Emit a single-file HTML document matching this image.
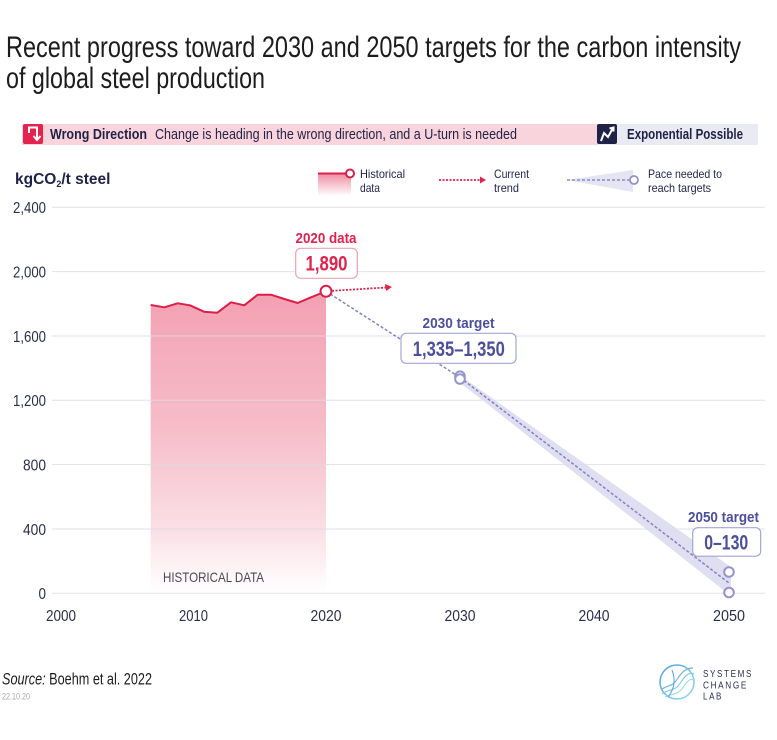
<!DOCTYPE html>
<html><head><meta charset="utf-8"><style>
html,body{margin:0;padding:0;background:#fff;}
svg{display:block;}
text{font-family:"Liberation Sans Narrow","Liberation Sans",sans-serif;}
</style></head><body>
<svg width="777" height="740" viewBox="0 0 777 740" xmlns="http://www.w3.org/2000/svg">
<defs>
<linearGradient id="hist" x1="0" y1="290" x2="0" y2="592" gradientUnits="userSpaceOnUse">
<stop offset="0" stop-color="#f3a0b2"/>
<stop offset="0.45" stop-color="#f6bcc8"/>
<stop offset="0.8" stop-color="#fae0e6"/>
<stop offset="1" stop-color="#ffffff"/>
</linearGradient>
<linearGradient id="leg" x1="0" y1="173" x2="0" y2="196" gradientUnits="userSpaceOnUse">
<stop offset="0" stop-color="#ee8aa0"/>
<stop offset="1" stop-color="#ffffff"/>
</linearGradient>
<linearGradient id="logo" x1="0" y1="0" x2="1" y2="1">
<stop offset="0" stop-color="#4f9be0"/>
<stop offset="1" stop-color="#8fdcea"/>
</linearGradient>
</defs>

<!-- Title -->
<text x="6" y="57" font-size="30" fill="#1c1c1c" textLength="735" lengthAdjust="spacingAndGlyphs">Recent progress toward 2030 and 2050 targets for the carbon intensity</text>
<text x="6" y="88" font-size="30" fill="#1c1c1c" textLength="259" lengthAdjust="spacingAndGlyphs">of global steel production</text>

<!-- Banner -->
<rect x="22" y="124" width="576" height="21" fill="#f9d4dc"/>
<rect x="598" y="124" width="160" height="21" fill="#eaeaf3"/>
<rect x="23" y="124" width="20" height="20" rx="2" fill="#e2244e"/>
<path d="M29,130 L29,127.5 L37,127.5 L37,139 M33.5,136 L37,140 L40.5,136" stroke="#fff" stroke-width="2" fill="none"/>
<path d="M29,127 L29,133" stroke="#fff" stroke-width="2"/>
<text x="50" y="139" font-size="14.5" font-weight="bold" fill="#1f2247" textLength="97" lengthAdjust="spacingAndGlyphs">Wrong Direction</text>
<text x="155" y="139" font-size="14.5" fill="#1f2247" textLength="362" lengthAdjust="spacingAndGlyphs">Change is heading in the wrong direction, and a U-turn is needed</text>
<rect x="597" y="124" width="20" height="20" rx="2" fill="#1f2247"/>
<path d="M601,141 L604,133 L608,137 L613,128 M609.5,128.5 L613.5,127.5 L613.5,131.5" stroke="#fff" stroke-width="2" fill="none"/>
<text x="627" y="139" font-size="14.5" font-weight="bold" fill="#1f2247" textLength="116" lengthAdjust="spacingAndGlyphs">Exponential Possible</text>

<!-- Y axis title -->
<text x="15" y="184" font-size="15.5" font-weight="bold" fill="#1f2247">kgCO<tspan font-size="9" dy="3">2</tspan><tspan dy="-3">/t steel</tspan></text>

<!-- Legend -->
<rect x="318" y="173" width="33" height="22" fill="url(#leg)"/>
<line x1="318" y1="173.5" x2="346" y2="173.5" stroke="#dc1f48" stroke-width="2"/>
<circle cx="350" cy="173.5" r="4" fill="#fff" stroke="#dc1f48" stroke-width="2"/>
<text x="360" y="178" font-size="12" fill="#1f2247" textLength="45" lengthAdjust="spacingAndGlyphs">Historical</text>
<text x="360" y="192" font-size="12" fill="#1f2247" textLength="20" lengthAdjust="spacingAndGlyphs">data</text>

<line x1="439" y1="180" x2="481" y2="180" stroke="#e0234e" stroke-width="1.8" stroke-dasharray="2,1.5"/>
<path d="M480,176.5 L486,180 L480,183.5 Z" fill="#e0234e"/>
<text x="494" y="178" font-size="12" fill="#1f2247" textLength="35" lengthAdjust="spacingAndGlyphs">Current</text>
<text x="494" y="192" font-size="12" fill="#1f2247" textLength="25" lengthAdjust="spacingAndGlyphs">trend</text>

<path d="M567,180 L633,170 L633,192 Z" fill="#e4e4f2"/>
<line x1="567" y1="180" x2="630" y2="180" stroke="#8a8cc8" stroke-width="1.5" stroke-dasharray="3,2"/>
<circle cx="634" cy="180" r="4" fill="#fff" stroke="#8f90cc" stroke-width="1.8"/>
<text x="648" y="178" font-size="12" fill="#1f2247" textLength="74" lengthAdjust="spacingAndGlyphs">Pace needed to</text>
<text x="648" y="192" font-size="12" fill="#1f2247" textLength="63" lengthAdjust="spacingAndGlyphs">reach targets</text>

<!-- Historical fill -->
<path d="M150.7,305 L164.3,307.3 L177.7,303.3 L190,305.3 L204,311.7 L217.3,312.7 L231,302.3 L244.3,305.3 L257.7,294.7 L271,294.7 L284.3,299 L297.7,303 L311,297.3 L326,291.3 L326,593 L150.7,593 Z" fill="url(#hist)"/>

<!-- Gridlines -->
<g stroke="#dcdce4" stroke-width="1" opacity="0.85">
<line x1="52" y1="207.3" x2="765" y2="207.3"/>
<line x1="52" y1="271.6" x2="765" y2="271.6"/>
<line x1="52" y1="336" x2="765" y2="336"/>
<line x1="52" y1="400.3" x2="765" y2="400.3"/>
<line x1="52" y1="464.6" x2="765" y2="464.6"/>
<line x1="52" y1="529" x2="765" y2="529"/>
<line x1="52" y1="593.3" x2="765" y2="593.3"/>
</g>

<!-- Y labels -->
<g font-size="15.5" fill="#2a2d4a" text-anchor="end">
<text x="46" y="213" textLength="33" lengthAdjust="spacingAndGlyphs">2,400</text>
<text x="46" y="277.5" textLength="33" lengthAdjust="spacingAndGlyphs">2,000</text>
<text x="46" y="342" textLength="33" lengthAdjust="spacingAndGlyphs">1,600</text>
<text x="46" y="406" textLength="33" lengthAdjust="spacingAndGlyphs">1,200</text>
<text x="46" y="470.5" textLength="23" lengthAdjust="spacingAndGlyphs">800</text>
<text x="46" y="535" textLength="23" lengthAdjust="spacingAndGlyphs">400</text>
<text x="46" y="599" textLength="7.5" lengthAdjust="spacingAndGlyphs">0</text>
</g>

<!-- X labels -->
<g font-size="15.5" fill="#2a2d4a" text-anchor="middle">
<text x="61" y="621" textLength="30" lengthAdjust="spacingAndGlyphs">2000</text>
<text x="193.5" y="621" textLength="29" lengthAdjust="spacingAndGlyphs">2010</text>
<text x="326" y="621" textLength="31" lengthAdjust="spacingAndGlyphs">2020</text>
<text x="460" y="621" textLength="31" lengthAdjust="spacingAndGlyphs">2030</text>
<text x="594" y="621" textLength="31" lengthAdjust="spacingAndGlyphs">2040</text>
<text x="729" y="621" textLength="32" lengthAdjust="spacingAndGlyphs">2050</text>
</g>

<text x="163" y="582" font-size="14" fill="#4a4a55" textLength="101" lengthAdjust="spacingAndGlyphs">HISTORICAL DATA</text>

<!-- Band 2030-2050 -->
<path d="M458,374 L731,567 L731,596 L458,381 Z" fill="#dcdcef" opacity="0.9"/>

<!-- Pace dashed lines -->
<line x1="326" y1="291.3" x2="460" y2="377.5" stroke="#8082c2" stroke-width="1.5" stroke-dasharray="3,2"/>
<line x1="460" y1="377.5" x2="729" y2="583" stroke="#8082c2" stroke-width="1.5" stroke-dasharray="3,2"/>

<!-- Historical line -->
<polyline points="150.7,305 164.3,307.3 177.7,303.3 190,305.3 204,311.7 217.3,312.7 231,302.3 244.3,305.3 257.7,294.7 271,294.7 284.3,299 297.7,303 311,297.3 326,291.3" fill="none" stroke="#dc1f48" stroke-width="2" stroke-linejoin="round"/>

<!-- Current trend -->
<line x1="332" y1="290.8" x2="386" y2="287.5" stroke="#e0234e" stroke-width="1.8" stroke-dasharray="2,1.5"/>
<path d="M385,284 L392,287 L386,291 Z" fill="#e0234e"/>

<circle cx="326" cy="291.3" r="5.5" fill="#fff" stroke="#dc1f48" stroke-width="2"/>

<!-- 2030 circles -->
<circle cx="460" cy="376.2" r="4.8" fill="#fff" stroke="#9394cf" stroke-width="2"/>
<circle cx="460" cy="379" r="4.8" fill="#fff" stroke="#9394cf" stroke-width="2"/>
<!-- 2050 circles -->
<circle cx="729" cy="572" r="4.8" fill="#fff" stroke="#9394cf" stroke-width="2"/>
<circle cx="729" cy="592.5" r="4.8" fill="#fff" stroke="#9394cf" stroke-width="2"/>

<!-- 2020 annotation -->
<text x="326" y="243" font-size="15" font-weight="bold" fill="#e0234e" text-anchor="middle" textLength="61" lengthAdjust="spacingAndGlyphs">2020 data</text>
<rect x="295.7" y="248.3" width="61.6" height="30" rx="5" fill="#fff" stroke="#eea2b3" stroke-width="1.2"/>
<text x="326.5" y="270.5" font-size="21" font-weight="bold" fill="#e0234e" text-anchor="middle" textLength="42" lengthAdjust="spacingAndGlyphs">1,890</text>

<!-- 2030 annotation -->
<text x="458.5" y="328" font-size="15" font-weight="bold" fill="#4b4f9c" text-anchor="middle" textLength="72" lengthAdjust="spacingAndGlyphs">2030 target</text>
<rect x="401" y="333.3" width="115" height="30" rx="5" fill="#fff" stroke="#a3a6d4" stroke-width="1.2"/>
<text x="458.8" y="356" font-size="21" font-weight="bold" fill="#4b4f9c" text-anchor="middle" textLength="92" lengthAdjust="spacingAndGlyphs">1,335–1,350</text>

<!-- 2050 annotation -->
<text x="723.5" y="522" font-size="15" font-weight="bold" fill="#4b4f9c" text-anchor="middle" textLength="71" lengthAdjust="spacingAndGlyphs">2050 target</text>
<rect x="692.7" y="527.7" width="68" height="28.5" rx="5" fill="#fff" stroke="#a3a6d4" stroke-width="1.2"/>
<text x="726.2" y="549.5" font-size="21" font-weight="bold" fill="#4b4f9c" text-anchor="middle" textLength="44" lengthAdjust="spacingAndGlyphs">0–130</text>

<!-- Source -->
<text x="2" y="684.5" font-size="16.5" fill="#1c1c1c" textLength="150" lengthAdjust="spacingAndGlyphs"><tspan font-style="italic">Source:</tspan> Boehm et al. 2022</text>
<text x="2" y="699.5" font-size="9" fill="#a8a8a8" textLength="28" lengthAdjust="spacingAndGlyphs">22.10.20</text>

<!-- Logo -->
<circle cx="677" cy="682" r="17" fill="none" stroke="url(#logo)" stroke-width="1.5"/>
<path d="M661,690 C668,684 672,688 678,678 C683,670 688,668 693,668" fill="none" stroke="#6db5e6" stroke-width="1.2"/>
<path d="M662,694 C670,688 675,692 681,682 C686,674 690,672 694,674" fill="none" stroke="#86cde9" stroke-width="1.2"/>
<path d="M665,697 C672,693 678,696 684,686 C688,680 691,678 694,680" fill="none" stroke="#9adbe9" stroke-width="1.1"/>
<path d="M672,670 C676,680 674,690 668,697" fill="none" stroke="#5ea7e2" stroke-width="1.1"/>
<g font-size="10" fill="#2b2d5a" letter-spacing="2">
<text x="703" y="677" textLength="50" lengthAdjust="spacingAndGlyphs">SYSTEMS</text>
<text x="703" y="688.5" textLength="45" lengthAdjust="spacingAndGlyphs">CHANGE</text>
<text x="703" y="699.5" textLength="20" lengthAdjust="spacingAndGlyphs">LAB</text>
</g>
</svg>
</body></html>
